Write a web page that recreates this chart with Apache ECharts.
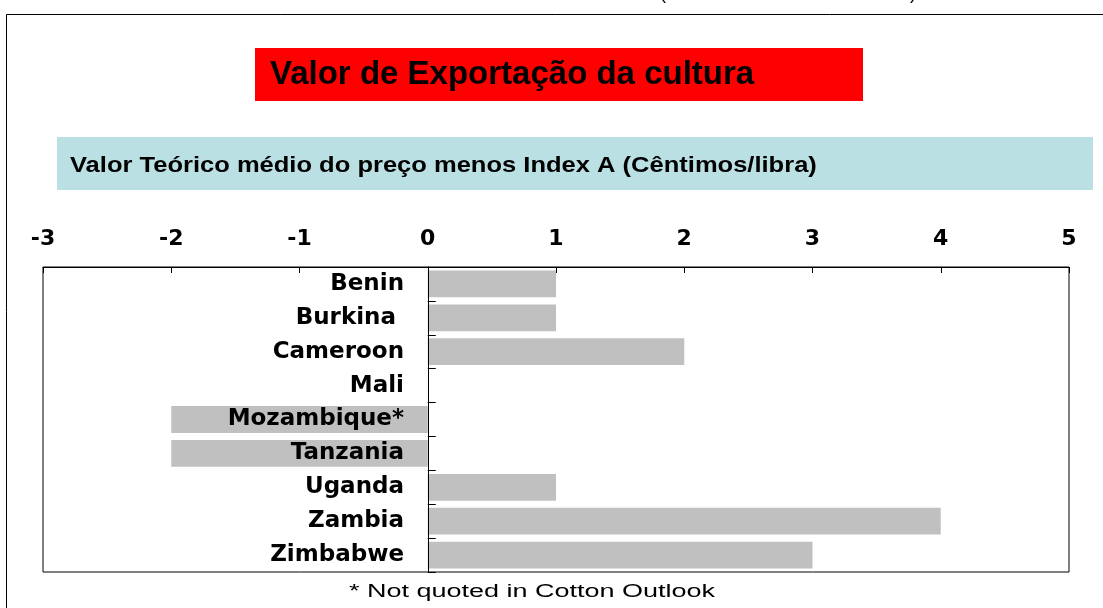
<!DOCTYPE html>
<html>
<head>
<meta charset="utf-8">
<script src="https://cdn.jsdelivr.net/npm/echarts@6/dist/echarts.min.js"></script>
<style>
html, body { margin: 0; padding: 0; background: #fff; }
#chart { width: 1103px; height: 608px; }
</style>
</head>
<body>
<div id="chart"></div>
<script>
// dados
var countries = ['Benin', 'Burkina ', 'Cameroon', 'Mali', 'Mozambique*', 'Tanzania', 'Uganda', 'Zambia', 'Zimbabwe'];
var values = [1, 1, 2, 0, -2, -2, 1, 4, 3];
var xTicks = [-3, -2, -1, 0, 1, 2, 3, 4, 5];

var arial = '"Liberation Sans", Arial, sans-serif';
var wide = '"DejaVu Sans", Verdana, sans-serif';
var chart = echarts.init(document.getElementById('chart'));

var gridLeft = 43;
var option = {
  animation: false,
  backgroundColor: '#fff',
  grid: {
    left: gridLeft, right: 34, top: 267, bottom: 36,
    containLabel: false,
    outerBoundsMode: 'none',
    show: true, borderColor: '#000', borderWidth: 1
  },
  xAxis: {
    type: 'value',
    position: 'top',
    min: xTicks[0],
    max: xTicks[xTicks.length - 1],
    interval: 1,
    axisLine: { show: true, lineStyle: { color: '#000' } },
    axisTick: { show: true, inside: true, length: 6, lineStyle: { color: '#000' } },
    splitLine: { show: false },
    axisLabel: { color: '#000', fontWeight: 'bold', fontSize: 22, fontFamily: wide, margin: 17 }
  },
  yAxis: {
    type: 'category',
    inverse: true,
    data: countries,
    z: 10,
    axisLine: { show: true, onZero: true, lineStyle: { color: '#000' } },
    axisTick: { show: true, inside: true, length: 8, lineStyle: { color: '#000' } },
    // rótulos encostados ao eixo do zero (x = 0 fica a 427px)
    axisLabel: { color: '#000', fontWeight: 'bold', fontSize: 23, fontFamily: wide, margin: gridLeft - 404 }
  },
  series: [{
    type: 'bar',
    data: values,
    barCategoryGap: '21%',
    itemStyle: { color: '#c0c0c0' }
  }],
  graphic: [
    { type: 'rect', shape: { x: 6.5, y: 14.5, width: 1200, height: 700 },
      style: { fill: 'none', stroke: '#000', lineWidth: 1 }, z: 1 },
    { type: 'text', x: 660, y: -15,
      style: { text: '(', font: '18px ' + arial, fill: '#000' } },
    { type: 'text', x: 910, y: -15,
      style: { text: ')', font: '18px ' + arial, fill: '#000' } },
    { type: 'rect', shape: { x: 255, y: 48, width: 608, height: 53 },
      style: { fill: '#ff0000' } },
    { type: 'text', x: 270, y: 75,
      style: { text: 'Valor de Exportação da cultura', font: 'bold 33px ' + arial, fill: '#000', verticalAlign: 'middle' } },
    { type: 'rect', shape: { x: 57, y: 137, width: 1036, height: 53 },
      style: { fill: '#bbe0e3' } },
    { type: 'text', x: 70, y: 166, scaleX: 1.16,
      style: { text: 'Valor Teórico médio do preço menos Index A (Cêntimos/libra)', font: 'bold 22px ' + arial, fill: '#000', verticalAlign: 'middle' } },
    { type: 'text', x: 532, y: 592, scaleX: 1.5,
      style: { text: '* Not quoted in Cotton Outlook', font: '18px ' + arial, fill: '#000', align: 'center', verticalAlign: 'middle' } }
  ]
};

chart.setOption(option);
</script>
</body>
</html>
